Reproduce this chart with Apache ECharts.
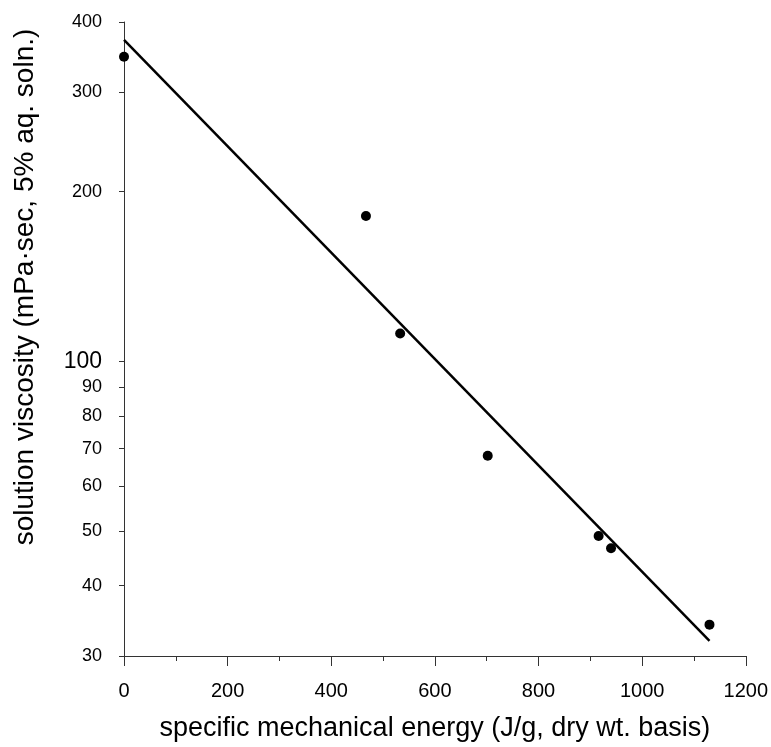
<!DOCTYPE html>
<html>
<head>
<meta charset="utf-8">
<script src="https://cdn.jsdelivr.net/npm/echarts@6/dist/echarts.min.js"></script>
<style>
    html, body { margin: 0; padding: 0; background: #fff; }
    #chart { width: 771px; height: 747px; }
</style>
</head>
<body>
<div id="chart"></div>
<script>
    // measured points
    let energy = [0, 467, 533, 702, 916, 940, 1130];
    let viscosity = [347, 181, 112, 68, 49, 46.6, 34.1];
    // fitted line ends
    let fitEnergy = [0, 1130];
    let fitViscosity = [372, 31.9];
    // log axis labels
    let yTicks = [30, 40, 50, 60, 70, 80, 90, 100, 200, 300, 400];

    let myChart = echarts.init(document.getElementById('chart'));
    let font = 'Liberation Sans, Arial, sans-serif';

    let option = {
        backgroundColor: '#fff',
        animation: false,
        grid: {
            left: 124,
            right: 25,
            top: 22,
            bottom: 89
        },
        xAxis: {
            type: 'value',
            min: 0,
            max: 1200,
            interval: 200,
            name: 'specific mechanical energy (J/g, dry wt. basis)',
            nameLocation: 'middle',
            nameGap: 59,
            nameTextStyle: { fontFamily: font, fontSize: 27, color: '#000' },
            axisLine: { lineStyle: { color: '#333', width: 1 } },
            axisTick: { show: true, length: 10, lineStyle: { color: '#333' } },
            minorTick: { show: true, splitNumber: 2, length: 5, lineStyle: { color: '#333' } },
            splitLine: { show: false },
            axisLabel: {
                fontFamily: font, fontSize: 20, color: '#000', margin: 25,
                formatter: function (v) { return String(v); }
            }
        },
        yAxis: {
            type: 'log',
            logBase: 10,
            min: 30,
            max: 400,
            name: 'solution viscosity (mPa·sec, 5% aq. soln.)',
            nameLocation: 'middle',
            nameGap: 85,
            nameTextStyle: {
                fontFamily: font, fontSize: 28, color: '#000',
                padding: [0, 0, 0, 104]
            },
            axisLine: { show: true, lineStyle: { color: '#333', width: 1 } },
            axisTick: { show: true, length: 5, customValues: yTicks, lineStyle: { color: '#333' } },
            splitLine: { show: false },
            axisLabel: {
                customValues: yTicks,
                margin: 22,
                color: '#000',
                formatter: function (v) {
                    let n = Math.round(v);
                    return n === 100 ? '{b|' + n + '}' : '{a|' + n + '}';
                },
                rich: {
                    a: { fontFamily: font, fontSize: 18, color: '#000' },
                    b: { fontFamily: font, fontSize: 23, color: '#000' }
                }
            }
        },
        series: [
            {
                name: 'fit',
                type: 'line',
                data: fitEnergy.map((x, i) => [x, fitViscosity[i]]),
                showSymbol: false,
                symbol: 'none',
                lineStyle: { color: '#000', width: 2.5 },
                z: 2
            },
            {
                name: 'data',
                type: 'scatter',
                data: energy.map((x, i) => [x, viscosity[i]]),
                symbol: 'circle',
                symbolSize: 10,
                itemStyle: { color: '#000', opacity: 1 },
                z: 3
            }
        ]
    };
    myChart.setOption(option);
</script>
</body>
</html>
